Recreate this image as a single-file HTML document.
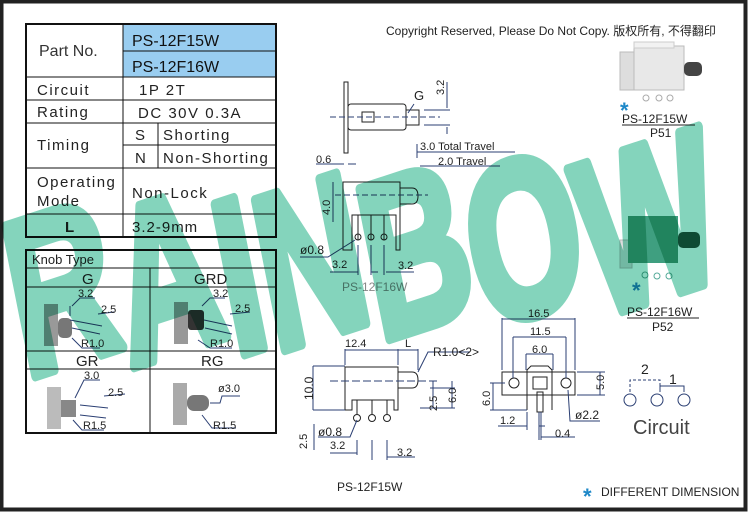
<!DOCTYPE html>
<html><head><meta charset="utf-8"><style>
html,body{margin:0;padding:0;background:#fff}
svg{display:block}
text{font-family:"Liberation Sans","Noto Sans CJK SC",sans-serif}
.d{stroke:#2b3f73;stroke-width:1;fill:none}
.k{stroke:#222;stroke-width:1;fill:none}
.t{font-family:"DejaVu Sans Condensed","Liberation Sans",sans-serif;fill:#222}
.dt{font-size:11px;fill:#222;font-family:"DejaVu Sans Condensed","Liberation Sans",sans-serif}
</style></head><body>
<svg width="750" height="513" viewBox="0 0 750 513" xmlns="http://www.w3.org/2000/svg">
<rect x="0" y="0" width="750" height="513" fill="#fff"/>
<rect x="1.5" y="1.5" width="744" height="508" fill="none" stroke="#222" stroke-width="4"/>

<!-- spec table -->
<rect x="123" y="25" width="153" height="52" fill="#99cdf0"/>
<g stroke="#111" fill="none">
<rect x="26" y="24" width="250" height="213" stroke-width="2"/>
<line x1="123" y1="24" x2="123" y2="237"/>
<line x1="123" y1="51" x2="276" y2="51"/>
<line x1="26" y1="77" x2="276" y2="77"/>
<line x1="26" y1="100" x2="276" y2="100"/>
<line x1="26" y1="123" x2="276" y2="123"/>
<line x1="123" y1="145" x2="276" y2="145"/>
<line x1="158" y1="123" x2="158" y2="168"/>
<line x1="26" y1="168" x2="276" y2="168"/>
<line x1="26" y1="214" x2="276" y2="214"/>
</g>
<g class="t" font-size="15">
<text x="39" y="56" font-size="16" fill="#333">Part No.</text>
<text x="132" y="46" font-family="Liberation Sans" font-size="16" fill="#111">PS-12F15W</text>
<text x="132" y="72" font-family="Liberation Sans" font-size="16" fill="#111">PS-12F16W</text>
<text x="37" y="95" letter-spacing="1.5">Circuit</text>
<text x="139" y="95" letter-spacing="1.5">1P 2T</text>
<text x="37" y="117" letter-spacing="1.5">Rating</text>
<text x="138" y="118" letter-spacing="1.5">DC 30V 0.3A</text>
<text x="37" y="150" letter-spacing="1.5">Timing</text>
<text x="135" y="140">S</text>
<text x="135" y="163">N</text>
<text x="163" y="140" letter-spacing="1.5">Shorting</text>
<text x="163" y="163" letter-spacing="1.5">Non-Shorting</text>
<text x="37" y="187" letter-spacing="1.5">Operating</text>
<text x="37" y="206" letter-spacing="1.5">Mode</text>
<text x="132" y="198" letter-spacing="1.5">Non-Lock</text>
<text x="65" y="232" font-family="Liberation Sans" font-weight="bold">L</text>
<text x="132" y="232" letter-spacing="1">3.2-9mm</text>
</g>

<!-- knob table -->
<g stroke="#111" fill="none">
<rect x="26" y="250" width="250" height="183" stroke-width="2"/>
<line x1="26" y1="268" x2="276" y2="268"/>
<line x1="26" y1="287" x2="276" y2="287"/>
<line x1="26" y1="351" x2="276" y2="351"/>
<line x1="26" y1="369" x2="276" y2="369"/>
<line x1="150" y1="268" x2="150" y2="433"/>
</g>
<g class="t">
<text x="32" y="264" font-size="13">Knob Type</text>
<text x="82" y="284" font-family="Liberation Sans" font-size="15">G</text>
<text x="194" y="284" font-family="Liberation Sans" font-size="15">GRD</text>
<text x="76" y="366" font-family="Liberation Sans" font-size="15">GR</text>
<text x="201" y="366" font-family="Liberation Sans" font-size="15">RG</text>
</g>
<g>
<rect x="44" y="304" width="14" height="42" fill="#999"/><rect x="58" y="318" width="14" height="20" rx="5" fill="#777"/>
<rect x="174" y="302" width="14" height="42" fill="#999"/><rect x="188" y="310" width="16" height="20" rx="3" fill="#333"/>
<rect x="47" y="387" width="14" height="42" fill="#bbb"/><rect x="61" y="400" width="15" height="17" fill="#888"/>
<rect x="173" y="383" width="14" height="42" fill="#aaa"/><rect x="187" y="395" width="22" height="16" rx="7" fill="#777"/>
</g>
<g class="d" stroke-width="0.8">
<path d="M72 306 L80 298 L95 298 M70 306 L70 316"/><path d="M70 320 L102 326 M72 328 L100 334 M98 314 L114 312"/>
<path d="M72 338 L82 348 L100 348"/>
<path d="M202 306 L210 298 L225 298 M204 320 L232 326 M205 328 L232 334 M230 314 L250 312 M198 340 L210 348 L232 348"/>
<path d="M75 398 L84 380 L100 380 M80 405 L108 408 M80 415 L106 418 M104 396 L125 394 M73 420 L82 430 L104 430"/>
<path d="M210 403 L220 403 L222 396 L240 396 M202 415 L212 428 L236 428"/>
</g>
<g class="dt" font-size="11">
<text x="78" y="297">3.2</text><text x="101" y="313">2.5</text><text x="81" y="347">R1.0</text>
<text x="213" y="297">3.2</text><text x="235" y="312">2.5</text><text x="210" y="347">R1.0</text>
<text x="84" y="379">3.0</text><text x="108" y="396">2.5</text><text x="83" y="429">R1.5</text>
<text x="218" y="392">ø3.0</text><text x="213" y="429">R1.5</text>
</g>

<text x="386" y="35" font-size="12" fill="#222">Copyright Reserved, Please Do Not Copy. 版权所有, 不得翻印</text>

<!-- top side view -->
<g class="k">
<rect x="344" y="82" width="4" height="71"/>
<rect x="348" y="104" width="58" height="26" rx="3"/>
<rect x="362" y="112" width="12" height="10"/>
<rect x="406" y="110" width="13" height="15"/>
</g>
<g class="d" stroke-width="0.8">
<line x1="330" y1="117" x2="440" y2="117" stroke-dasharray="6 3"/>
<path d="M414 104 L408 113 M424 110 L450 110 M424 125 L450 125 M447 82 L447 108 M447 127 L447 134"/>
<path d="M417 144 L417 158 M417 152 L515 152 M420 166 L500 166"/>
<path d="M316 164 L344 164 M348 164 L356 164"/>
</g>
<g class="dt"><text x="414" y="100" font-size="13" font-family="Liberation Sans">G</text>
<text x="444" y="95" transform="rotate(-90 444 95)">3.2</text>
<text x="420" y="150">3.0 Total Travel</text><text x="438" y="165">2.0 Travel</text>
<text x="316" y="163">0.6</text></g>

<!-- mid side view -->
<g class="k">
<path d="M343 182 L400 182 L400 250 L396 250 L396 215 L352 215 L352 250 L343 250 Z"/>
<path d="M400 188 L412 188 Q418 188 418 196 Q418 204 412 204 L400 204"/>
<line x1="358" y1="215" x2="358" y2="240"/><line x1="371" y1="215" x2="371" y2="240"/><line x1="384" y1="215" x2="384" y2="240"/>
<circle cx="358" cy="237" r="3"/><circle cx="371" cy="237" r="3"/><circle cx="384" cy="237" r="3"/>
</g>
<g class="d" stroke-width="0.8">
<line x1="335" y1="195" x2="428" y2="195" stroke-dasharray="6 3"/>
<path d="M333 182 L333 222 M300 257 L328 257 L355 240 M330 272 L358 272 M371 272 L378 272 M386 272 L414 272 M358 245 L358 275 M371 245 L371 275 M384 245 L384 275"/>
</g>
<g class="dt"><text x="330" y="215" transform="rotate(-90 330 215)">4.0</text><text x="300" y="254" font-size="12">ø0.8</text>
<text x="332" y="268">3.2</text><text x="398" y="269">3.2</text>
<text x="342" y="291" fill="#888" font-size="12">PS-12F16W</text></g>

<!-- bottom side view -->
<g class="k">
<path d="M345 367 L398 367 L398 410 L394 410 L394 400 L352 400 L352 410 L345 410 Z"/>
<path d="M398 372 L412 372 Q418 372 418 380 Q418 388 412 388 L398 388"/>
<line x1="357" y1="400" x2="357" y2="414"/><line x1="372" y1="400" x2="372" y2="414"/><line x1="387" y1="400" x2="387" y2="414"/>
<circle cx="357" cy="418" r="3.5"/><circle cx="372" cy="418" r="3.5"/><circle cx="387" cy="418" r="3.5"/>
</g>
<g class="d" stroke-width="0.8">
<line x1="330" y1="381" x2="440" y2="381" stroke-dasharray="8 3"/>
<path d="M345 349 L345 365 M398 349 L398 365 M418 349 L418 370 M345 350 L418 350 M418 372 L428 352 L470 352"/>
<path d="M313 366 L345 366 M313 410 L345 410 M313 366 L313 410 M433 381 L433 408 M452 381 L452 408 M420 408 L455 408 M430 388 L455 388"/>
<path d="M314 424 L314 450 M318 437 L350 437 L357 420 M330 453 L357 453 M372 440 L372 460 M387 440 L387 460 M357 440 L357 455 M387 457 L415 457"/>
</g>
<g class="dt"><text x="345" y="347">12.4</text><text x="405" y="347">L</text><text x="433" y="356" font-size="12">R1.0&lt;2&gt;</text>
<text x="313" y="400" transform="rotate(-90 313 400)" font-size="12">10.0</text>
<text x="437" y="411" transform="rotate(-90 437 411)">2.5</text><text x="456" y="403" transform="rotate(-90 456 403)">6.0</text>
<text x="307" y="449" transform="rotate(-90 307 449)">2.5</text>
<text x="318" y="436" font-size="12">ø0.8</text><text x="330" y="449">3.2</text><text x="397" y="456">3.2</text>
<text x="337" y="491" font-size="12" font-family="Liberation Sans">PS-12F15W</text></g>

<!-- front view -->
<g class="k">
<rect x="502" y="372" width="73" height="23"/>
<path d="M527 410 L527 370 L531 366 L548 366 L552 370 L552 410"/>
<rect x="533" y="377" width="14" height="12"/>
<rect x="537" y="392" width="6" height="20"/>
<circle cx="514" cy="383" r="5"/><circle cx="566" cy="383" r="5"/>
</g>
<g class="d" stroke-width="0.8">
<path d="M502 318 L502 370 M575 318 L575 370 M502 319 L575 319 M513 337 L513 378 M566 337 L566 378 M513 337 L566 337 M526 354 L526 370 M553 354 L553 370 M526 354 L553 354"/>
<path d="M577 372 L605 372 M577 395 L605 395 M600 372 L600 395 M490 383 L505 383 M490 410 L527 410 M493 383 L493 410"/>
<path d="M498 426 L527 426 M539 426 L545 426 M527 412 L527 430 M539 412 L539 440 M541 412 L541 440 M541 437 L575 437 M568 390 L570 421 L600 421"/>
</g>
<g class="dt"><text x="528" y="317">16.5</text><text x="530" y="335">11.5</text><text x="532" y="353">6.0</text>
<text x="604" y="390" transform="rotate(-90 604 390)">5.0</text><text x="490" y="406" transform="rotate(-90 490 406)">6.0</text>
<text x="500" y="424">1.2</text><text x="555" y="437">0.4</text><text x="575" y="419" font-size="12">ø2.2</text></g>

<!-- circuit -->
<g class="d" stroke-width="1">
<path d="M630 392 L630 380 L660 380 L660 392" stroke-dasharray="3 2"/>
<path d="M660 392 L660 386 L684 386 L684 392"/>
<circle cx="630" cy="400" r="6"/><circle cx="657" cy="400" r="6"/><circle cx="684" cy="400" r="6"/>
</g>
<g class="t"><text x="641" y="374" font-size="14">2</text><text x="669" y="384" font-size="14">1</text>
<text x="633" y="434" font-size="20" fill="#444">Circuit</text></g>

<!-- 3D pictures -->
<g>
<rect x="620" y="52" width="14" height="38" fill="#ddd" stroke="#bbb"/>
<rect x="634" y="46" width="50" height="44" fill="#e8e8e8" stroke="#bbb"/>
<rect x="634" y="42" width="40" height="6" fill="#f2f2f2" stroke="#ccc"/>
<rect x="684" y="62" width="18" height="14" rx="5" fill="#444"/>
<circle cx="646" cy="98" r="3" fill="none" stroke="#aaa"/><circle cx="659" cy="98" r="3" fill="none" stroke="#aaa"/><circle cx="670" cy="98" r="3" fill="none" stroke="#aaa"/>
<rect x="620" y="240" width="12" height="28" fill="#ddd" stroke="#bbb"/>
<rect x="628" y="216" width="50" height="47" fill="#3f9f80"/>
<rect x="678" y="232" width="22" height="16" rx="5" fill="#1b5a45"/>
<circle cx="645" cy="275" r="3" fill="none" stroke="#5a9"/><circle cx="657" cy="276" r="3" fill="none" stroke="#5a9"/><circle cx="669" cy="276" r="3" fill="none" stroke="#5a9"/>
</g>
<g font-family="Liberation Sans" fill="#1e88c8" font-size="22" font-weight="bold">
<text x="620" y="118">*</text><text x="632" y="298">*</text><text x="583" y="504">*</text></g>
<g class="t" font-family="Liberation Sans">
<text x="622" y="123" font-size="12">PS-12F15W</text><line x1="622" y1="125" x2="695" y2="125" stroke="#222"/>
<text x="650" y="137" font-size="12">P51</text>
<text x="627" y="316" font-size="12">PS-12F16W</text><line x1="627" y1="318" x2="699" y2="318" stroke="#222"/>
<text x="652" y="331" font-size="12">P52</text>
<text x="601" y="496" font-size="12">DIFFERENT DIMENSION</text></g>

<!-- watermark -->
<g style="mix-blend-mode:multiply" fill="#84d4bc" stroke="#84d4bc" stroke-width="11" stroke-linejoin="round">
<text x="18" y="342" font-family="Liberation Sans" font-weight="bold" font-size="222" textLength="712" lengthAdjust="spacingAndGlyphs" transform="rotate(-6 375 290)" rotate="-8 -8 -8 -8 -8 -8 -8">RAINBOW</text>
</g>
</svg>
</body></html>
